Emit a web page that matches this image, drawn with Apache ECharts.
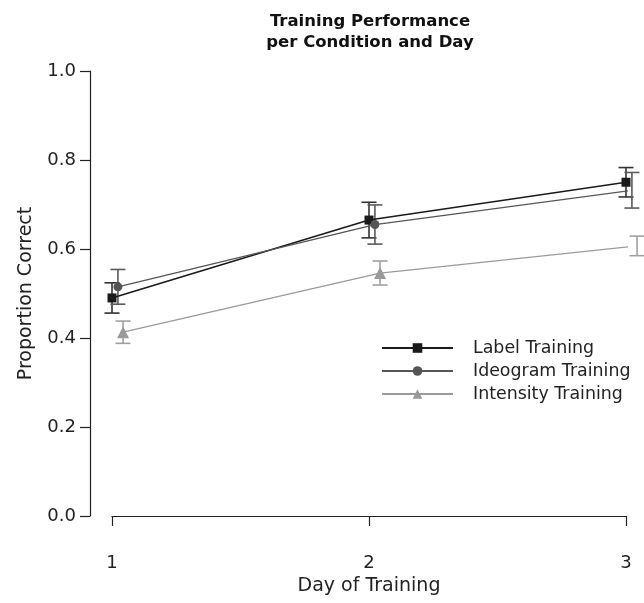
<!DOCTYPE html>
<html>
<head>
<meta charset="utf-8">
<script src="https://cdn.jsdelivr.net/npm/echarts@6/dist/echarts.min.js"></script>
<style>html,body{margin:0;padding:0;background:#fff;}#c{width:644px;height:603px;}</style>
</head>
<body>
<div id="c"></div>
<script>
// ---- data ----
const days = [1, 2, 3];
const seriesNames = ['Label Training', 'Ideogram Training', 'Intensity Training'];
const labelMean = [0.490, 0.665, 0.750];
const labelErr  = [0.034, 0.040, 0.033];
const ideoMean  = [0.515, 0.655, 0.732];
const ideoErr   = [0.039, 0.044, 0.040];
const intMean   = [0.413, 0.546, 0.607];
const intErr    = [0.025, 0.027, 0.022];
const dodge     = [0, 0.023, 0.043];
const yTickLabels = ['0.0', '0.2', '0.4', '0.6', '0.8', '1.0'];
const titleText = 'Training Performance\nper Condition and Day';

const means = [labelMean, ideoMean, intMean];
const errs = [labelErr, ideoErr, intErr];
const colors = ['#1a1a1a', '#555555', '#9a9a9a'];
const barColors = ['#333333', '#5a5a5a', '#a0a0a0'];
const symbols = ['rect', 'circle', 'triangle'];
const symSizes = [9, 9, 12];
const lineWidths = [1.6, 1.3, 1.3];
const FONT = 'DejaVu Sans';

const chart = echarts.init(document.getElementById('c'), null, {renderer: 'canvas'});

const series = [];
for (let s = 0; s < 3; s++) {
  const errData = days.map((d, i) => [d + dodge[s], means[s][i] - errs[s][i], means[s][i] + errs[s][i]]);
  series.push({
    type: 'custom',
    xAxisIndex: 0, yAxisIndex: 0,
    silent: true,
    z: 2,
    data: errData,
    renderItem: (function (col) {
      return function (params, api) {
        const x = api.value(0), lo = api.value(1), hi = api.value(2);
        const a = api.coord([x, lo]), b = api.coord([x, hi]);
        const w = 7.5;
        const st = {stroke: col, lineWidth: 1.6};
        return {type: 'group', children: [
          {type: 'line', shape: {x1: a[0], y1: a[1], x2: b[0], y2: b[1]}, style: st},
          {type: 'line', shape: {x1: a[0] - w, y1: a[1], x2: a[0] + w, y2: a[1]}, style: st},
          {type: 'line', shape: {x1: b[0] - w, y1: b[1], x2: b[0] + w, y2: b[1]}, style: st}
        ]};
      };
    })(barColors[s])
  });
  series.push({
    name: seriesNames[s],
    type: 'line',
    xAxisIndex: 0, yAxisIndex: 0,
    z: 3,
    data: days.map((d, i) => [d + dodge[s], means[s][i]]),
    symbol: symbols[s],
    symbolSize: symSizes[s],
    showAllSymbol: true,
    lineStyle: {color: colors[s], width: lineWidths[s]},
    itemStyle: {color: colors[s], borderWidth: 0},
    emphasis: {disabled: true},
    animation: false
  });
}

const option = {
  animation: false,
  backgroundColor: '#ffffff',
  textStyle: {fontFamily: FONT},
  graphic: [{
    type: 'text',
    x: 370, y: 11,
    style: {
      text: titleText,
      font: 'bold 16.5px "DejaVu Sans"',
      fill: '#111',
      textAlign: 'center',
      textVerticalAlign: 'top',
      lineHeight: 21
    }
  }],
  grid: [
    {left: 90, right: 18, top: 71, bottom: 87},
    {left: 112, right: 18, top: 71, bottom: 87}
  ],
  xAxis: [
    {gridIndex: 0, type: 'value', min: 1 - 22 / 257, max: 3, show: false},
    {
      gridIndex: 1, type: 'value', min: 1, max: 3, interval: 1, offset: 22,
      name: 'Day of Training', nameLocation: 'middle', nameGap: 37,
      nameTextStyle: {fontSize: 19, color: '#222', fontFamily: FONT},
      axisLine: {show: true, lineStyle: {color: '#222', width: 1.2}},
      axisTick: {show: true, length: 10, inside: false, lineStyle: {color: '#222', width: 1.2}},
      axisLabel: {fontSize: 18, color: '#222', margin: 16, fontFamily: FONT},
      splitLine: {show: false}
    }
  ],
  yAxis: [
    {
      gridIndex: 0, type: 'value', min: 0, max: 1, interval: 0.2,
      name: 'Proportion Correct', nameLocation: 'middle', nameGap: 54,
      nameTextStyle: {fontSize: 19, color: '#222', fontFamily: FONT},
      axisLine: {show: true, lineStyle: {color: '#222', width: 1.2}},
      axisTick: {show: true, length: 10, lineStyle: {color: '#222', width: 1.2}},
      axisLabel: {fontSize: 18, color: '#222', margin: 14, fontFamily: FONT,
        formatter: function (v) { return yTickLabels[Math.round(v / 0.2)]; }},
      splitLine: {show: false}
    },
    {gridIndex: 1, type: 'value', min: 0, max: 1, show: false}
  ],
  legend: {
    orient: 'vertical',
    left: 376, top: 333,
    itemWidth: 71, itemHeight: 12, itemGap: 3,
    data: seriesNames,
    textStyle: {fontSize: 17.4, lineHeight: 20, color: '#222', fontFamily: FONT, padding: [0, 0, 0, 15]},
    selectedMode: false
  },
  series: series
};
chart.setOption(option);
</script>
</body>
</html>
